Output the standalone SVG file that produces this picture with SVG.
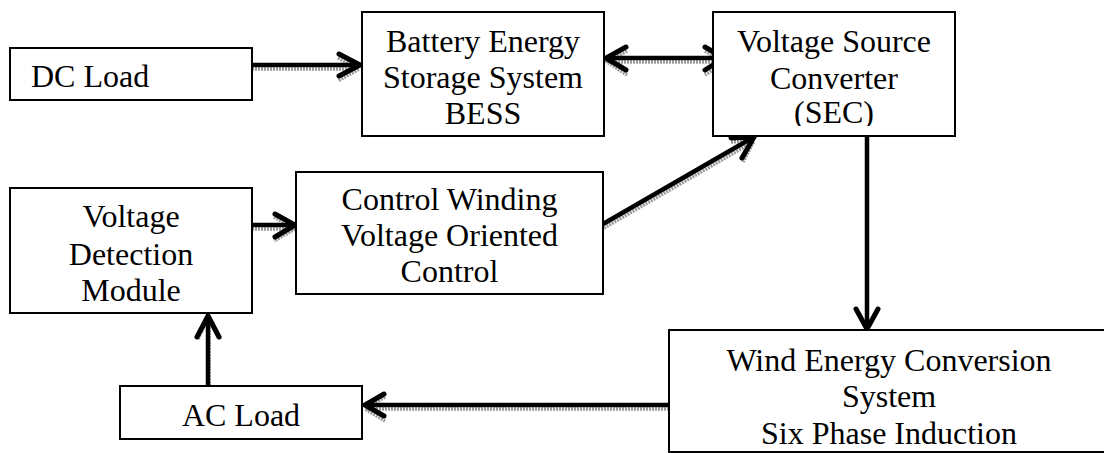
<svg xmlns="http://www.w3.org/2000/svg" width="1104" height="453" viewBox="0 0 1104 453">
<style>
.box{fill:#fff;stroke:#000;stroke-width:2}
.t{font-family:"Liberation Serif","Times New Roman",serif;font-size:32px;fill:#000;text-anchor:middle}
.ln{fill:none;stroke:#000;stroke-width:4.5;stroke-linejoin:miter;stroke-linecap:butt}
.hd{fill:none;stroke:#000;stroke-width:5;stroke-linejoin:miter;stroke-linecap:round}
.sh{fill:none;stroke:#9a9a9a;stroke-width:3.5;stroke-dasharray:2 1}
</style>
<defs>
<clipPath id="secclip"><rect x="713" y="12" width="242" height="114"/></clipPath>
</defs>
<rect width="1104" height="453" fill="#fff"/>
<g id="connectors">
  <g id="c-dc-bess">
    <path class="sh" d="M252,69 L357,69 M338,58 L359,69 L338,81" transform="translate(0,0)"/>
    <path class="ln" d="M252,65 L357,65"/>
    <path class="hd" d="M339,54 L360,65 L339,76"/>
  </g>
  <g id="c-bess-vsc">
    <path class="sh" d="M609,62 L721,62 M627,51 L607,62 L627,75 M705,51 L725,62 L705,75"/>
    <path class="ln" d="M608,58 L722,58"/>
    <path class="hd" d="M626,47 L606,58 L626,70 M705,47 L724,58 L705,70"/>
  </g>
  <g id="c-vdm-cw">
    <path class="sh" d="M252,229 L293,229 M274,217 L295,229 L274,241"/>
    <path class="ln" d="M252,225 L293,225"/>
    <path class="hd" d="M275,214 L295,225 L275,237"/>
  </g>
  <g id="c-cw-vsc">
    <path class="sh" d="M604,228 L753,142 M731,142 L754,141 L743,162"/>
    <path class="ln" d="M603,224 L752,138"/>
    <path class="hd" d="M731,138 L754,137 L742,158"/>
  </g>
  <g id="c-vsc-wecs">
    <path class="ln" d="M867,136 L867,328"/>
    <path class="hd" d="M856,309 L867,329 L878,309"/>
  </g>
  <g id="c-wecs-ac">
    <path class="sh" d="M669,409 L367,409 M385,397 L365,409 L385,421"/>
    <path class="ln" d="M669,405 L366,405"/>
    <path class="hd" d="M384,394 L365,405 L384,416"/>
  </g>
  <g id="c-ac-vdm">
    <path class="sh" d="M209,386 L209,318 M198,339 L209,316 L221,339"/>
    <path class="ln" d="M208,386 L208,317"/>
    <path class="hd" d="M197,337 L208,316 L219,337"/>
  </g>
</g>
<g id="dc-load">
  <rect class="box" x="10" y="48" width="242" height="52"/>
  <text class="t" x="31" y="87" style="text-anchor:start">DC Load</text>
</g>
<g id="bess">
  <rect class="box" x="362" y="12" width="242" height="124"/>
  <text class="t" x="483" y="52">Battery Energy</text>
  <text class="t" x="483" y="88">Storage System</text>
  <text class="t" x="483" y="124">BESS</text>
</g>
<g id="vsc">
  <rect class="box" x="713" y="12" width="242" height="124"/>
  <text class="t" x="834" y="52">Voltage Source</text>
  <text class="t" x="834" y="89">Converter</text>
  <text class="t" x="834" y="123" clip-path="url(#secclip)">(SEC)</text>
</g>
<g id="vdm">
  <rect class="box" x="10" y="188" width="242" height="125"/>
  <text class="t" x="131" y="227">Voltage</text>
  <text class="t" x="131" y="265">Detection</text>
  <text class="t" x="131" y="301">Module</text>
</g>
<g id="cw">
  <rect class="box" x="296" y="172" width="307" height="122"/>
  <text class="t" x="449.5" y="210">Control Winding</text>
  <text class="t" x="449.5" y="246">Voltage Oriented</text>
  <text class="t" x="449.5" y="282">Control</text>
</g>
<g id="wecs">
  <rect class="box" x="669" y="330" width="470" height="122"/>
  <text class="t" x="889" y="371">Wind Energy Conversion</text>
  <text class="t" x="889" y="407">System</text>
  <text class="t" x="889" y="444">Six Phase Induction</text>
</g>
<g id="ac-load">
  <rect class="box" x="120" y="386" width="242" height="53"/>
  <text class="t" x="241" y="426">AC Load</text>
</g>
</svg>
